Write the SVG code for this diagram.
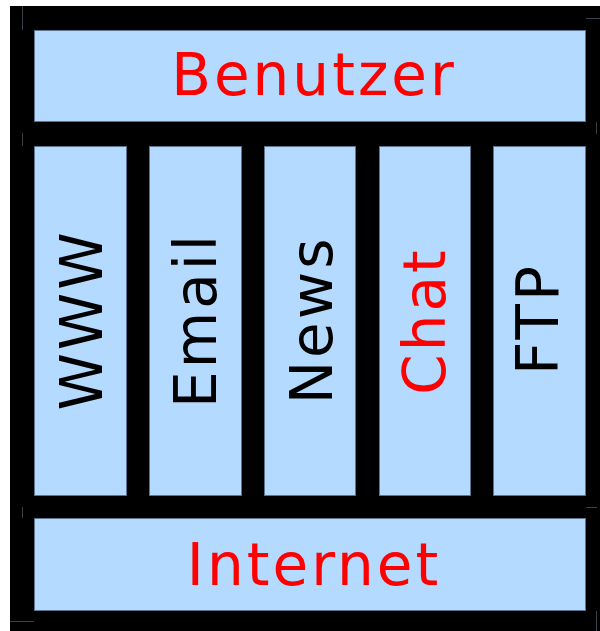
<svg xmlns="http://www.w3.org/2000/svg" width="600" height="631" viewBox="0 0 600 631">
<style>
.box{fill:#b4daff;stroke:#5a7590;stroke-width:1}
.lbl{font-family:"DejaVu Sans",sans-serif;font-size:58px;text-anchor:middle;letter-spacing:3px}
.red{fill:#ff0000}
.blk{fill:#000000}
.art{stroke:#3a4048;stroke-width:1;fill:none}
</style>
<rect x="10" y="6" width="590" height="625" fill="#000"/>
<g id="artifacts">
<path class="art" d="M22.5 6V30M22.5 133V146M586 18.5H600M596.5 122V134M22.5 507V518M10 621.5H34M586 507.5H597M596.5 611V631"/>
</g>
<g id="benutzer">
<rect class="box" x="34.5" y="30.5" width="551" height="91"/>
<text class="lbl red" x="314" y="95">Benutzer</text>
</g>
<g id="www">
<rect class="box" x="34.5" y="146.5" width="92" height="349"/>
<text class="lbl blk" transform="translate(102,320) rotate(-90)">WWW</text>
</g>
<g id="email">
<rect class="box" x="149.5" y="146.5" width="92" height="349"/>
<text class="lbl blk" transform="translate(216,320) rotate(-90)">Email</text>
</g>
<g id="news">
<rect class="box" x="264.5" y="146.5" width="91" height="349"/>
<text class="lbl blk" transform="translate(332,320) rotate(-90)">News</text>
</g>
<g id="chat">
<rect class="box" x="379.5" y="146.5" width="91" height="349"/>
<text class="lbl red" transform="translate(445,321) rotate(-90)">Chat</text>
</g>
<g id="ftp">
<rect class="box" x="493.5" y="146.5" width="92" height="349"/>
<text class="lbl blk" transform="translate(558,319) rotate(-90)">FTP</text>
</g>
<g id="internet">
<rect class="box" x="34.5" y="518.5" width="551" height="92"/>
<text class="lbl red" x="314" y="585">Internet</text>
</g>
<g id="connectors"></g>
</svg>
